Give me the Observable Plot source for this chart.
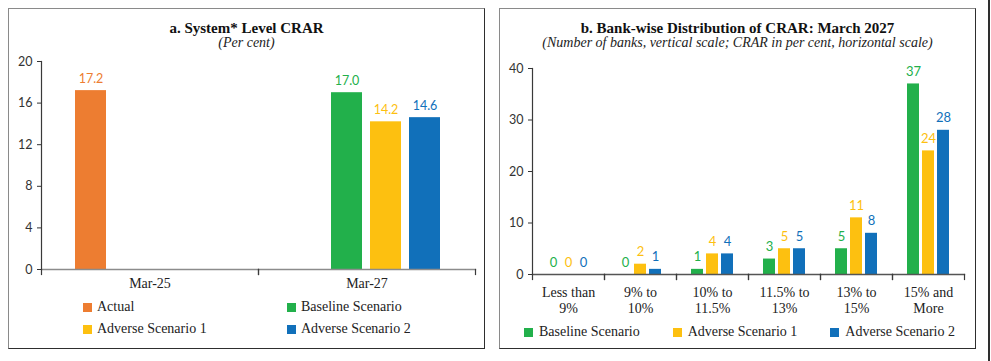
<!DOCTYPE html>
<html>
<head>
<meta charset="utf-8">
<script src="https://cdn.jsdelivr.net/npm/d3@7"></script>
<script src="https://cdn.jsdelivr.net/npm/@observablehq/plot@0.6"></script>
<style>
  html, body { margin: 0; padding: 0; background: #fff; }
  body { width: 991px; height: 361px; position: relative; overflow: hidden; font-family: "Liberation Serif", serif; color: #222; }
  .panel { position: absolute; top: 8px; width: 477px; height: 341px; box-sizing: border-box;
           border-style: solid; border-width: 1.5px; border-color: #8a8a8a #2e2e2e #2e2e2e #8a8a8a; }
  .title { position: absolute; width: 477px; text-align: center; font-weight: bold; font-size: 15px; line-height: 18px; top: 19px; color: #111; }
  .sub { position: absolute; width: 477px; text-align: center; font-style: italic; font-size: 14px; line-height: 16px; top: 35px; color: #222; }
  .chart { position: absolute; }
  .legend { position: absolute; font-size: 14px; line-height: 14px; color: #222; }
  .item { position: relative; padding-left: 14px; white-space: nowrap; height: 14px; }
  .sw { position: absolute; left: 0; top: 3px; width: 9px; height: 9px; }
  .edge { position: absolute; left: 988px; top: 0; width: 2px; height: 361px; background: #2e2e2e; }
</style>
</head>
<body>
<div class="panel" style="left:8px"></div>
<div class="panel" style="left:499px"></div>
<div class="edge"></div>
<div class="title" style="left:8px">a. System* Level CRAR</div>
<div class="sub" style="left:8px">(Per cent)</div>
<div class="title" style="left:499px">b. Bank-wise Distribution of CRAR: March 2027</div>
<div class="sub" style="left:499px">(Number of banks, vertical scale; CRAR in per cent, horizontal scale)</div>
<div id="chartA" class="chart" style="left:0px;top:50px"></div>
<div id="chartB" class="chart" style="left:495px;top:58px"></div>
<div id="legendA" class="legend" style="left:83px;top:300px;display:grid;grid-template-columns:204px 204px;row-gap:8px"></div>
<div id="legendB" class="legend" style="left:524px;top:325px;display:flex;column-gap:33px"></div>
<script>
// ---------- Data: panel a ----------
const periodsA = ["Mar-25", "Mar-27"];
const seriesA = ["Actual", "Baseline Scenario", "Adverse Scenario 1", "Adverse Scenario 2"];
const colorsA = ["#ED7D31", "#22B04B", "#FDC010", "#1170BA"];
const actualA = [17.2, null];
const baselineA = [null, 17.0];
const adverse1A = [null, 14.2];
const adverse2A = [null, 14.6];
const yTicksA = [0, 4, 8, 12, 16, 20];

// ---------- Data: panel b ----------
const binsB = ["Less than\n9%", "9% to\n10%", "10% to\n11.5%", "11.5% to\n13%", "13% to\n15%", "15% and\nMore"];
const seriesB = ["Baseline Scenario", "Adverse Scenario 1", "Adverse Scenario 2"];
const colorsB = ["#22B04B", "#FDC010", "#1170BA"];
const baselineB = [0, 0, 1, 3, 5, 37];
const adverse1B = [0, 2, 4, 5, 11, 24];
const adverse2B = [0, 1, 4, 5, 8, 28];
const yTicksB = [0, 10, 20, 30, 40];

const sans = "Lato, sans-serif";
const serif = "Liberation Serif, serif";

// Build tables
const colsA = [actualA, baselineA, adverse1A, adverse2A];
const rowsA = [];
periodsA.forEach((p, i) => seriesA.forEach((s, j) => {
  if (colsA[j][i] != null) rowsA.push({cat: p, series: s, value: colsA[j][i]});
}));
const colsB = [baselineB, adverse1B, adverse2B];
const rowsB = [];
binsB.forEach((b, i) => seriesB.forEach((s, j) => rowsB.push({cat: b, series: s, value: colsB[j][i]})));

function barChart(opts) {
  const {rows, cats, series, colors, domain, ticks, width, height, mt, mr, mb, ml, fmt,
         labelSize, catPad, axisColor, catLineHeight} = opts;
  const innerH = height - mt - mb;
  return Plot.plot({
    width, height, marginTop: mt, marginRight: mr, marginBottom: mb, marginLeft: ml,
    style: {background: "transparent", overflow: "visible"},
    fx: {domain: cats, padding: 0, label: null},
    x: {domain: series, paddingInner: 0.2, paddingOuter: 0.88, axis: null},
    y: {domain, label: null},
    color: {domain: series, range: colors},
    marks: [
      Plot.barY(rows, {fx: "cat", x: "series", y: "value", fill: "series"}),
      Plot.text(rows, {fx: "cat", x: "series", y: "value", text: d => fmt(d.value), fill: "series",
        lineAnchor: "bottom", dy: -8, fontSize: labelSize, fontFamily: sans}),
      Plot.frame({anchor: "bottom", stroke: axisColor, strokeWidth: 1.3}),
      Plot.frame({anchor: "left", facetAnchor: "left", stroke: "#3a3a3a", strokeWidth: 1.2}),
      Plot.frame({anchor: "right", insetTop: innerH, insetBottom: -5, stroke: "#3a3a3a", strokeWidth: 1.2}),
      Plot.frame({anchor: "left", insetTop: innerH, insetBottom: -5, stroke: "#3a3a3a", strokeWidth: 1.2}),
      Plot.axisY({ticks, tickSize: 4, tickPadding: 5, fontSize: 12.5, fontFamily: sans, color: "#333", label: null}),
      Plot.axisFx({anchor: "bottom", tickSize: 0, tickPadding: catPad, fontSize: 14, fontFamily: serif, color: "#222",
        label: null, lineHeight: catLineHeight})
    ]
  });
}

document.getElementById("chartA").append(barChart({
  rows: rowsA, cats: periodsA, series: seriesA, colors: colorsA, domain: [0, 20], ticks: yTicksA,
  width: 490, height: 240, mt: 11, mr: 15, mb: 21, ml: 41, fmt: v => v.toFixed(1), labelSize: 12.5,
  catPad: 7, axisColor: "#8c8c8c", catLineHeight: 1.15
}));

document.getElementById("chartB").append(barChart({
  rows: rowsB, cats: binsB, series: seriesB, colors: colorsB, domain: [0, 40], ticks: yTicksB,
  width: 480, height: 260, mt: 10, mr: 9, mb: 44, ml: 35, fmt: v => String(v), labelSize: 13,
  catPad: 11, axisColor: "#555", catLineHeight: 1.15
}));

function legend(el, series, colors) {
  series.forEach((s, i) => {
    const item = document.createElement("div");
    item.className = "item";
    const sw = document.createElement("span");
    sw.className = "sw";
    sw.style.background = colors[i];
    item.append(sw, document.createTextNode(s));
    el.append(item);
  });
}
legend(document.getElementById("legendA"), seriesA, colorsA);
legend(document.getElementById("legendB"), seriesB, colorsB);
document.getElementById("legendB").querySelectorAll(".item").forEach(d => d.style.paddingLeft = "15px");
</script>
</body>
</html>
